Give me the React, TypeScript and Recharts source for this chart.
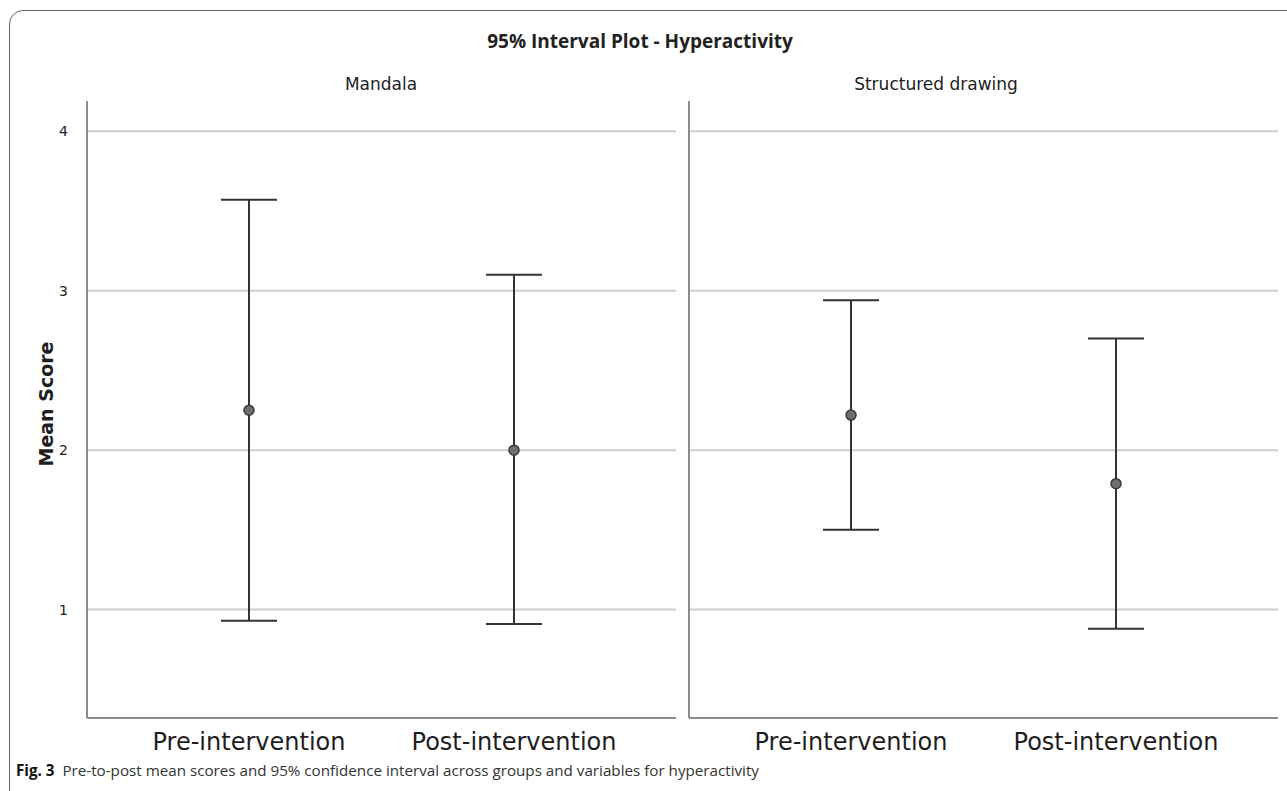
import { LineChart, Line, XAxis, YAxis, ReferenceLine, ErrorBar } from 'recharts';

const phases = ['Pre-intervention', 'Post-intervention'];
const groups = ['Mandala', 'Structured drawing'];

const mandalaMean = [2.25, 2.0];
const mandalaLow = [0.93, 0.91];
const mandalaHigh = [3.57, 3.1];

const structuredMean = [2.22, 1.79];
const structuredLow = [1.5, 0.88];
const structuredHigh = [2.94, 2.7];

const yTicks = [1, 2, 3, 4];
const yDomain = [0.32, 4.19];

const FONT = '"Open Sans", "Noto Sans", sans-serif';
const SPSS_FONT = '"DejaVu Sans", Verdana, sans-serif';
const W = 1287;
const H = 791;

function buildRows(mean: number[], low: number[], high: number[]) {
  return phases.map((phase, i) => ({
    phase,
    mean: mean[i],
    err: [mean[i] - low[i], high[i] - mean[i]],
  }));
}

const panels = [
  { name: groups[0], rows: buildRows(mandalaMean, mandalaLow, mandalaHigh), left: 87, right: 676, labels: true },
  { name: groups[1], rows: buildRows(structuredMean, structuredLow, structuredHigh), left: 689, right: 1278, labels: false },
];

const PLOT_TOP = 101;
const PLOT_BOTTOM = 718;
const X_AXIS_H = 44;
const Y_AXIS_W = 40;

function Panel({ rows, left, right, labels }: { rows: any[]; left: number; right: number; labels: boolean }) {
  const plotW = right - left;
  const pad = Math.round(plotW * 0.275);
  return (
    <div style={{ position: 'absolute', left: 0, top: 0 }}>
      <LineChart
        width={W}
        height={H}
        data={rows}
        margin={{ top: PLOT_TOP, left: left - Y_AXIS_W, right: W - right, bottom: H - PLOT_BOTTOM - X_AXIS_H }}
      >
        {yTicks.map((t) => (
          <ReferenceLine key={t} y={t} stroke="#cdcdcd" strokeWidth={2} />
        ))}
        <XAxis
          dataKey="phase"
          height={X_AXIS_H}
          padding={{ left: pad, right: pad }}
          tickLine={false}
          axisLine={{ stroke: '#8c8c8c', strokeWidth: 2 }}
          tick={{ fontSize: 24, fill: '#1e1e1e', fontFamily: SPSS_FONT }}
          tickMargin={9}
        />
        <YAxis
          width={Y_AXIS_W}
          type="number"
          domain={yDomain}
          ticks={yTicks}
          allowDataOverflow
          tickLine={false}
          axisLine={{ stroke: '#8c8c8c', strokeWidth: 2 }}
          tick={{ fontSize: 14, fill: labels ? '#222' : 'transparent', fontFamily: SPSS_FONT }}
          tickMargin={13}
        />
        <Line
          dataKey="mean"
          stroke="none"
          isAnimationActive={false}
          dot={{ r: 5, fill: '#6e6e6e', stroke: '#3a3a3a', strokeWidth: 1.5 }}
          activeDot={false}
        >
          <ErrorBar dataKey="err" width={28} stroke="#333" strokeWidth={2} direction="y" />
        </Line>
      </LineChart>
    </div>
  );
}

export default function App() {
  return (
    <div style={{ position: 'fixed', left: 0, top: 0, width: W, height: H, overflow: 'hidden', background: '#fff', fontFamily: FONT }}>
      <div
        style={{
          position: 'absolute',
          left: 9,
          top: 10,
          width: 1320,
          height: 800,
          border: '1.5px solid #666',
          borderRadius: 14,
          boxSizing: 'border-box',
        }}
      />
      {panels.map((p) => (
        <Panel key={p.name} rows={p.rows} left={p.left} right={p.right} labels={p.labels} />
      ))}
      <div style={{ position: 'absolute', left: 640, top: 28, transform: 'translateX(-50%)', fontSize: 19, fontWeight: 700, color: '#222', whiteSpace: 'nowrap' }}>
        95% Interval Plot - Hyperactivity
      </div>
      <div style={{ position: 'absolute', left: 381, top: 74, transform: 'translateX(-50%)', fontSize: 17, fontFamily: SPSS_FONT, color: '#222', whiteSpace: 'nowrap' }}>
        {groups[0]}
      </div>
      <div style={{ position: 'absolute', left: 936, top: 74, transform: 'translateX(-50%)', fontSize: 17, fontFamily: SPSS_FONT, color: '#222', whiteSpace: 'nowrap' }}>
        {groups[1]}
      </div>
      <div
        style={{
          position: 'absolute',
          left: 46,
          top: 404,
          transform: 'translate(-50%, -50%) rotate(-90deg)',
          fontSize: 19,
          fontWeight: 700,
          fontFamily: SPSS_FONT,
          color: '#1e1e1e',
          whiteSpace: 'nowrap',
        }}
      >
        Mean Score
      </div>
      <div style={{ position: 'absolute', left: 16, top: 760, fontSize: 15.2, color: '#333', whiteSpace: 'nowrap' }}>
        <b style={{ color: '#111' }}>Fig. 3</b>&nbsp;&nbsp;Pre-to-post mean scores and 95% confidence interval across groups and variables for hyperactivity
      </div>
    </div>
  );
}
